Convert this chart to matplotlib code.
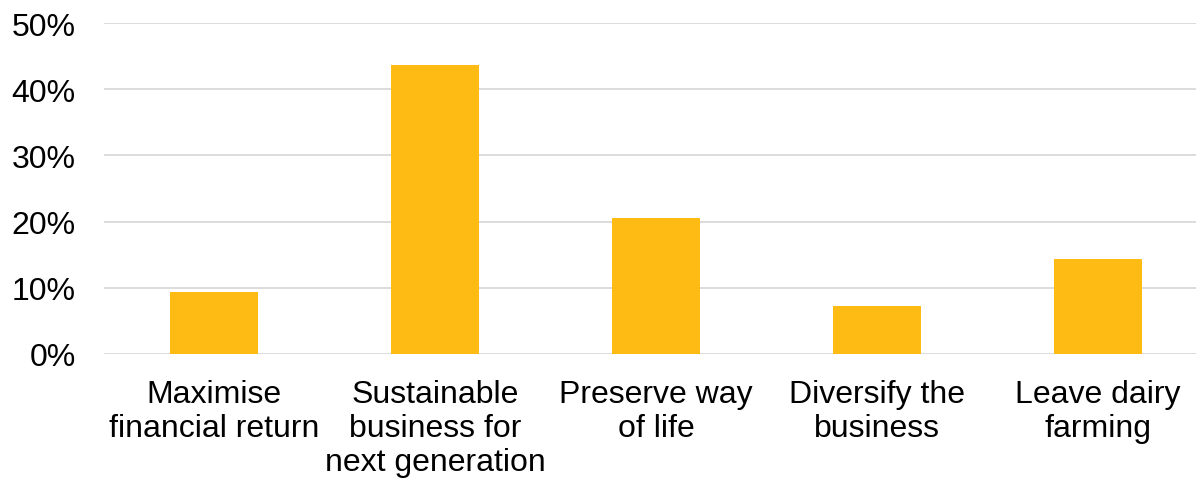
import matplotlib
matplotlib.use("Agg")
import matplotlib.pyplot as plt

plt.rcParams['font.family'] = ['Liberation Sans', 'DejaVu Sans']

categories = ["Maximise\nfinancial return", "Sustainable\nbusiness for\nnext generation",
              "Preserve way\nof life", "Diversify the\nbusiness", "Leave dairy\nfarming"]
values = [9.3, 43.6, 20.5, 7.2, 14.3]
yticks = [0, 10, 20, 30, 40, 50]

fig = plt.figure(figsize=(11.96, 4.81), dpi=100)
ax = fig.add_axes([103.5 / 1196, 126 / 481, 1105 / 1196, 331 / 481])

x = range(len(categories))
ax.bar(x, values, width=0.4, color='#FDBB13', zorder=3)

ax.set_xlim(-0.5, len(categories) - 0.5)
ax.set_ylim(0, 50)
ax.set_yticks(yticks)
ax.set_yticklabels([f"{t}%" for t in yticks])
ax.set_xticks(list(x))
ax.set_xticklabels(categories, linespacing=1.17)

ax.grid(axis='y', color='#d9d9d9', linewidth=1.3, zorder=0)
for s in ax.spines.values():
    s.set_visible(False)
ax.tick_params(axis='both', length=0, labelsize=23, colors='black')
ax.tick_params(axis='y', pad=20)
ax.tick_params(axis='x', pad=18)

fig.savefig('out.png', dpi=100)
